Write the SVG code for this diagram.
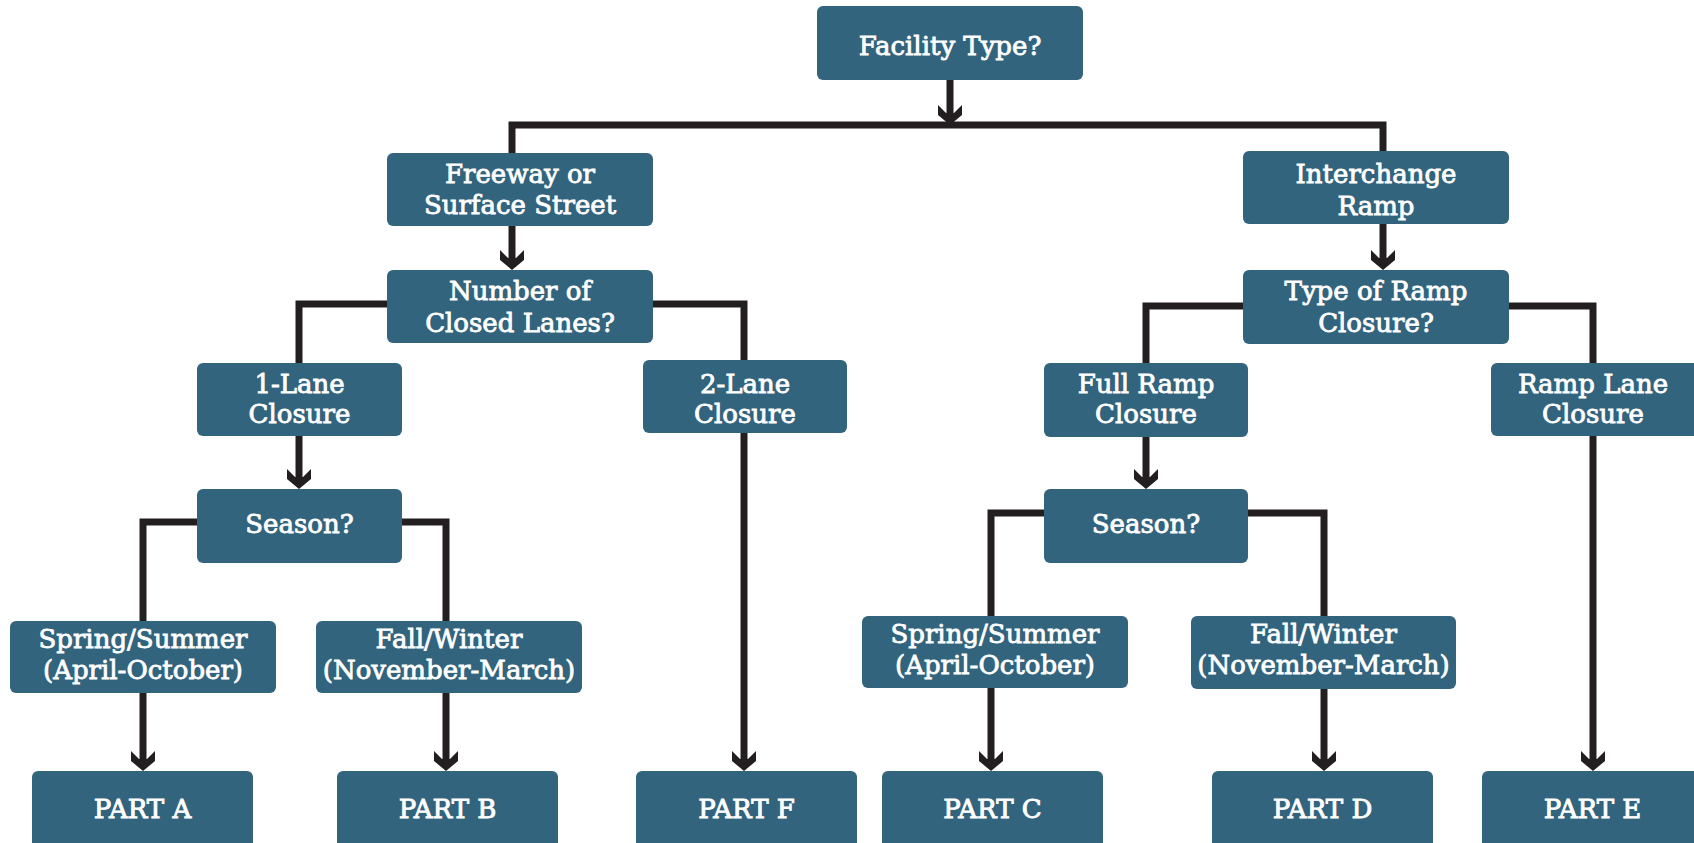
<svg xmlns="http://www.w3.org/2000/svg" width="1694" height="843" viewBox="0 0 1694 843">
<style>
.box{fill:#33647e;}
.t{font-family:"DejaVu Serif","Liberation Serif",serif;font-size:26px;fill:#ffffff;stroke:#ffffff;stroke-width:0.8px;text-anchor:middle;}
.p{font-family:"DejaVu Serif","Liberation Serif",serif;font-size:26px;fill:#ffffff;stroke:#ffffff;stroke-width:0.9px;text-anchor:middle;}
.c{fill:none;stroke:#231f20;stroke-width:7;stroke-linejoin:miter;marker-end:url(#ah);}
.c0{fill:none;stroke:#231f20;stroke-width:7;stroke-linejoin:miter;}
</style>
<defs>
<marker id="ah" markerUnits="userSpaceOnUse" orient="auto" refX="0" refY="0" overflow="visible">
<path d="M10,0 L0,12 L-10,12 L-2,4 L-2,-4 L-10,-12 L0,-12 Z" fill="#231f20"/>
</marker>
</defs>
<rect width="1694" height="843" fill="#ffffff"/>
<g id="connectors">
<path class="c" d="M950,80 V115"/>
<path class="c0" d="M512,153 V125 H1383 V151"/>
<path class="c" d="M512,226 V260"/>
<path class="c" d="M1383,224 V260"/>
<path class="c0" d="M387,304 H299 V363"/>
<path class="c0" d="M653,304 H744 V360"/>
<path class="c0" d="M1243,306 H1146 V363"/>
<path class="c0" d="M1509,306 H1593 V363"/>
<path class="c" d="M299,436 V479"/>
<path class="c" d="M1146,437 V479"/>
<path class="c0" d="M197,522 H143 V621"/>
<path class="c0" d="M402,522 H446 V621"/>
<path class="c0" d="M1044,513 H991 V616"/>
<path class="c0" d="M1248,513 H1324 V616"/>
<path class="c" d="M143,693 V761"/>
<path class="c" d="M446,693 V761"/>
<path class="c" d="M744,433 V761"/>
<path class="c" d="M991,688 V761"/>
<path class="c" d="M1324,689 V761"/>
<path class="c" d="M1593,436 V761"/>
</g>
<g id="facility"><rect class="box" x="817" y="6" width="266" height="74" rx="6"/><text class="t" x="950" y="55">Facility Type?</text></g>
<g id="freeway"><rect class="box" x="387" y="153" width="266" height="73" rx="6"/><text class="t" x="520" y="183">Freeway or</text><text class="t" x="520" y="214">Surface Street</text></g>
<g id="interchange"><rect class="box" x="1243" y="151" width="266" height="73" rx="6"/><text class="t" x="1376" y="183">Interchange</text><text class="t" x="1376" y="215">Ramp</text></g>
<g id="numlanes"><rect class="box" x="387" y="270" width="266" height="73" rx="6"/><text class="t" x="520" y="300">Number of</text><text class="t" x="520" y="332">Closed Lanes?</text></g>
<g id="ramptype"><rect class="box" x="1243" y="270" width="266" height="74" rx="6"/><text class="t" x="1376" y="300">Type of Ramp</text><text class="t" x="1376" y="332">Closure?</text></g>
<g id="lane1"><rect class="box" x="197" y="363" width="205" height="73" rx="6"/><text class="t" x="299.5" y="393">1-Lane</text><text class="t" x="299.5" y="423">Closure</text></g>
<g id="lane2"><rect class="box" x="643" y="360" width="204" height="73" rx="6"/><text class="t" x="745" y="393">2-Lane</text><text class="t" x="745" y="423">Closure</text></g>
<g id="fullramp"><rect class="box" x="1044" y="363" width="204" height="74" rx="6"/><text class="t" x="1146" y="393">Full Ramp</text><text class="t" x="1146" y="423">Closure</text></g>
<g id="ramplane"><rect class="box" x="1491" y="363" width="210" height="73" rx="6"/><text class="t" x="1593" y="393">Ramp Lane</text><text class="t" x="1593" y="423">Closure</text></g>
<g id="seasonL"><rect class="box" x="197" y="489" width="205" height="74" rx="6"/><text class="t" x="299.5" y="533">Season?</text></g>
<g id="seasonR"><rect class="box" x="1044" y="489" width="204" height="74" rx="6"/><text class="t" x="1146" y="533">Season?</text></g>
<g id="springL"><rect class="box" x="10" y="621" width="266" height="72" rx="6"/><text class="t" x="143" y="648">Spring/Summer</text><text class="t" x="143" y="679">(April-October)</text></g>
<g id="fallL"><rect class="box" x="316" y="621" width="266" height="72" rx="6"/><text class="t" x="449" y="648">Fall/Winter</text><text class="t" x="449" y="679">(November-March)</text></g>
<g id="springR"><rect class="box" x="862" y="616" width="266" height="72" rx="6"/><text class="t" x="995" y="643">Spring/Summer</text><text class="t" x="995" y="674">(April-October)</text></g>
<g id="fallR"><rect class="box" x="1191" y="616" width="265" height="73" rx="6"/><text class="t" x="1323.5" y="643">Fall/Winter</text><text class="t" x="1323.5" y="674">(November-March)</text></g>
<g id="partA"><rect class="box" x="32" y="771" width="221" height="80" rx="6"/><text class="p" x="142.5" y="818">PART A</text></g>
<g id="partB"><rect class="box" x="337" y="771" width="221" height="80" rx="6"/><text class="p" x="447.5" y="818">PART B</text></g>
<g id="partF"><rect class="box" x="636" y="771" width="221" height="80" rx="6"/><text class="p" x="746.5" y="818">PART F</text></g>
<g id="partC"><rect class="box" x="882" y="771" width="221" height="80" rx="6"/><text class="p" x="992.5" y="818">PART C</text></g>
<g id="partD"><rect class="box" x="1212" y="771" width="221" height="80" rx="6"/><text class="p" x="1322.5" y="818">PART D</text></g>
<g id="partE"><rect class="box" x="1482" y="771" width="221" height="80" rx="6"/><text class="p" x="1592.5" y="818">PART E</text></g>
</svg>
